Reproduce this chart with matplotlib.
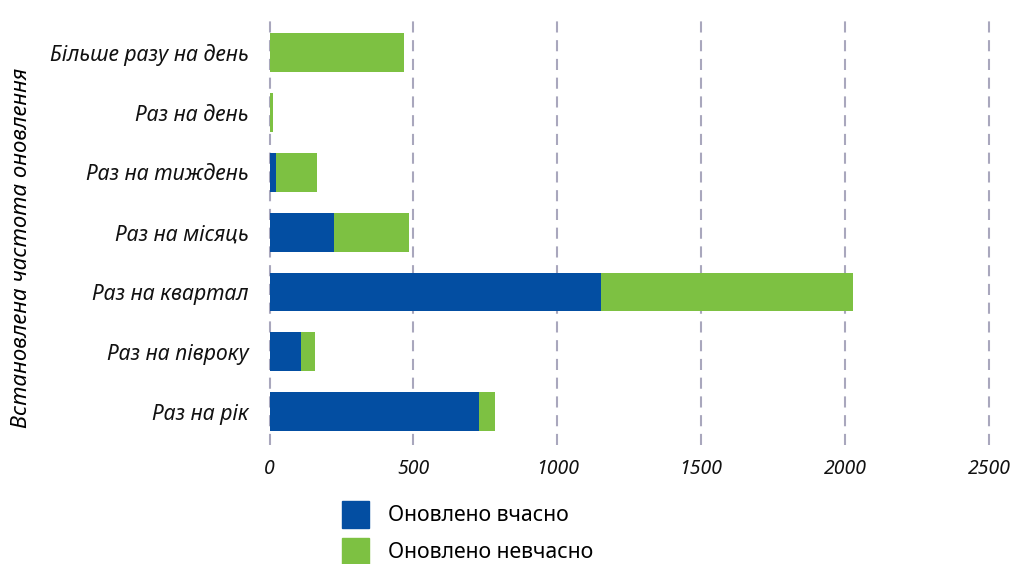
import matplotlib
matplotlib.use("Agg")
import matplotlib.pyplot as plt
from matplotlib.patches import Patch

plt.rcParams['font.family'] = ['Noto Sans', 'DejaVu Sans']
plt.rcParams['lines.scale_dashes'] = False

categories = ["Більше разу на день", "Раз на день", "Раз на тиждень", "Раз на місяць",
              "Раз на квартал", "Раз на півроку", "Раз на рік"]
on_time = [0, 0, 23, 224, 1152, 109, 727]
late = [467, 12, 142, 261, 875, 49, 56]
x_ticks = [0, 500, 1000, 1500, 2000, 2500]
series_names = ["Оновлено вчасно", "Оновлено невчасно"]

blue = "#034ea2"
green = "#7dc142"
grid_color = "#a9a7bd"

fig = plt.figure(figsize=(10.14, 5.64), dpi=100)
ax_w = 989 - 269.5
ax = fig.add_axes([269.5 / 1014, 1 - 445 / 564, ax_w / 1014, (445 - 14) / 564])

pos = list(range(len(categories)))
ax.barh(pos, on_time, height=0.65, color=blue, zorder=3)
ax.barh(pos, late, left=on_time, height=0.65, color=green, zorder=3)

ax.set_xlim(0, 2500)
ax.set_ylim(len(categories) - 1 + 0.56, -0.65)
ax.set_xticks(x_ticks)
ax.set_xticklabels([str(t) for t in x_ticks], fontstyle='italic', fontsize=14)
ax.set_yticks(pos)
ax.set_yticklabels(categories, fontstyle='italic', fontsize=15.3)
ax.tick_params(axis='both', length=0, colors='#111111')
ax.tick_params(axis='x', pad=10)
ax.tick_params(axis='y', pad=15)
for s in ax.spines.values():
    s.set_visible(False)
for t in x_ticks:
    ax.axvline(t, color=grid_color, lw=1.5, linestyle=(0, (8, 5.5)), zorder=1, clip_on=False)

ax.set_ylabel("Встановлена частота оновлення", fontstyle='italic', fontsize=16)
ax.yaxis.set_label_coords((32 - 269.5) / ax_w, 0.458)

handles = [Patch(color=blue), Patch(color=green)]
fig.legend(handles, series_names, loc='upper left', bbox_to_anchor=(342 / 1014, 1 - 501 / 564),
           frameon=False, fontsize=15.3, handlelength=1.27, handleheight=1.577,
           handletextpad=0.88, labelspacing=0.47, borderaxespad=0, borderpad=0)

fig.savefig("out.png", dpi=100)
